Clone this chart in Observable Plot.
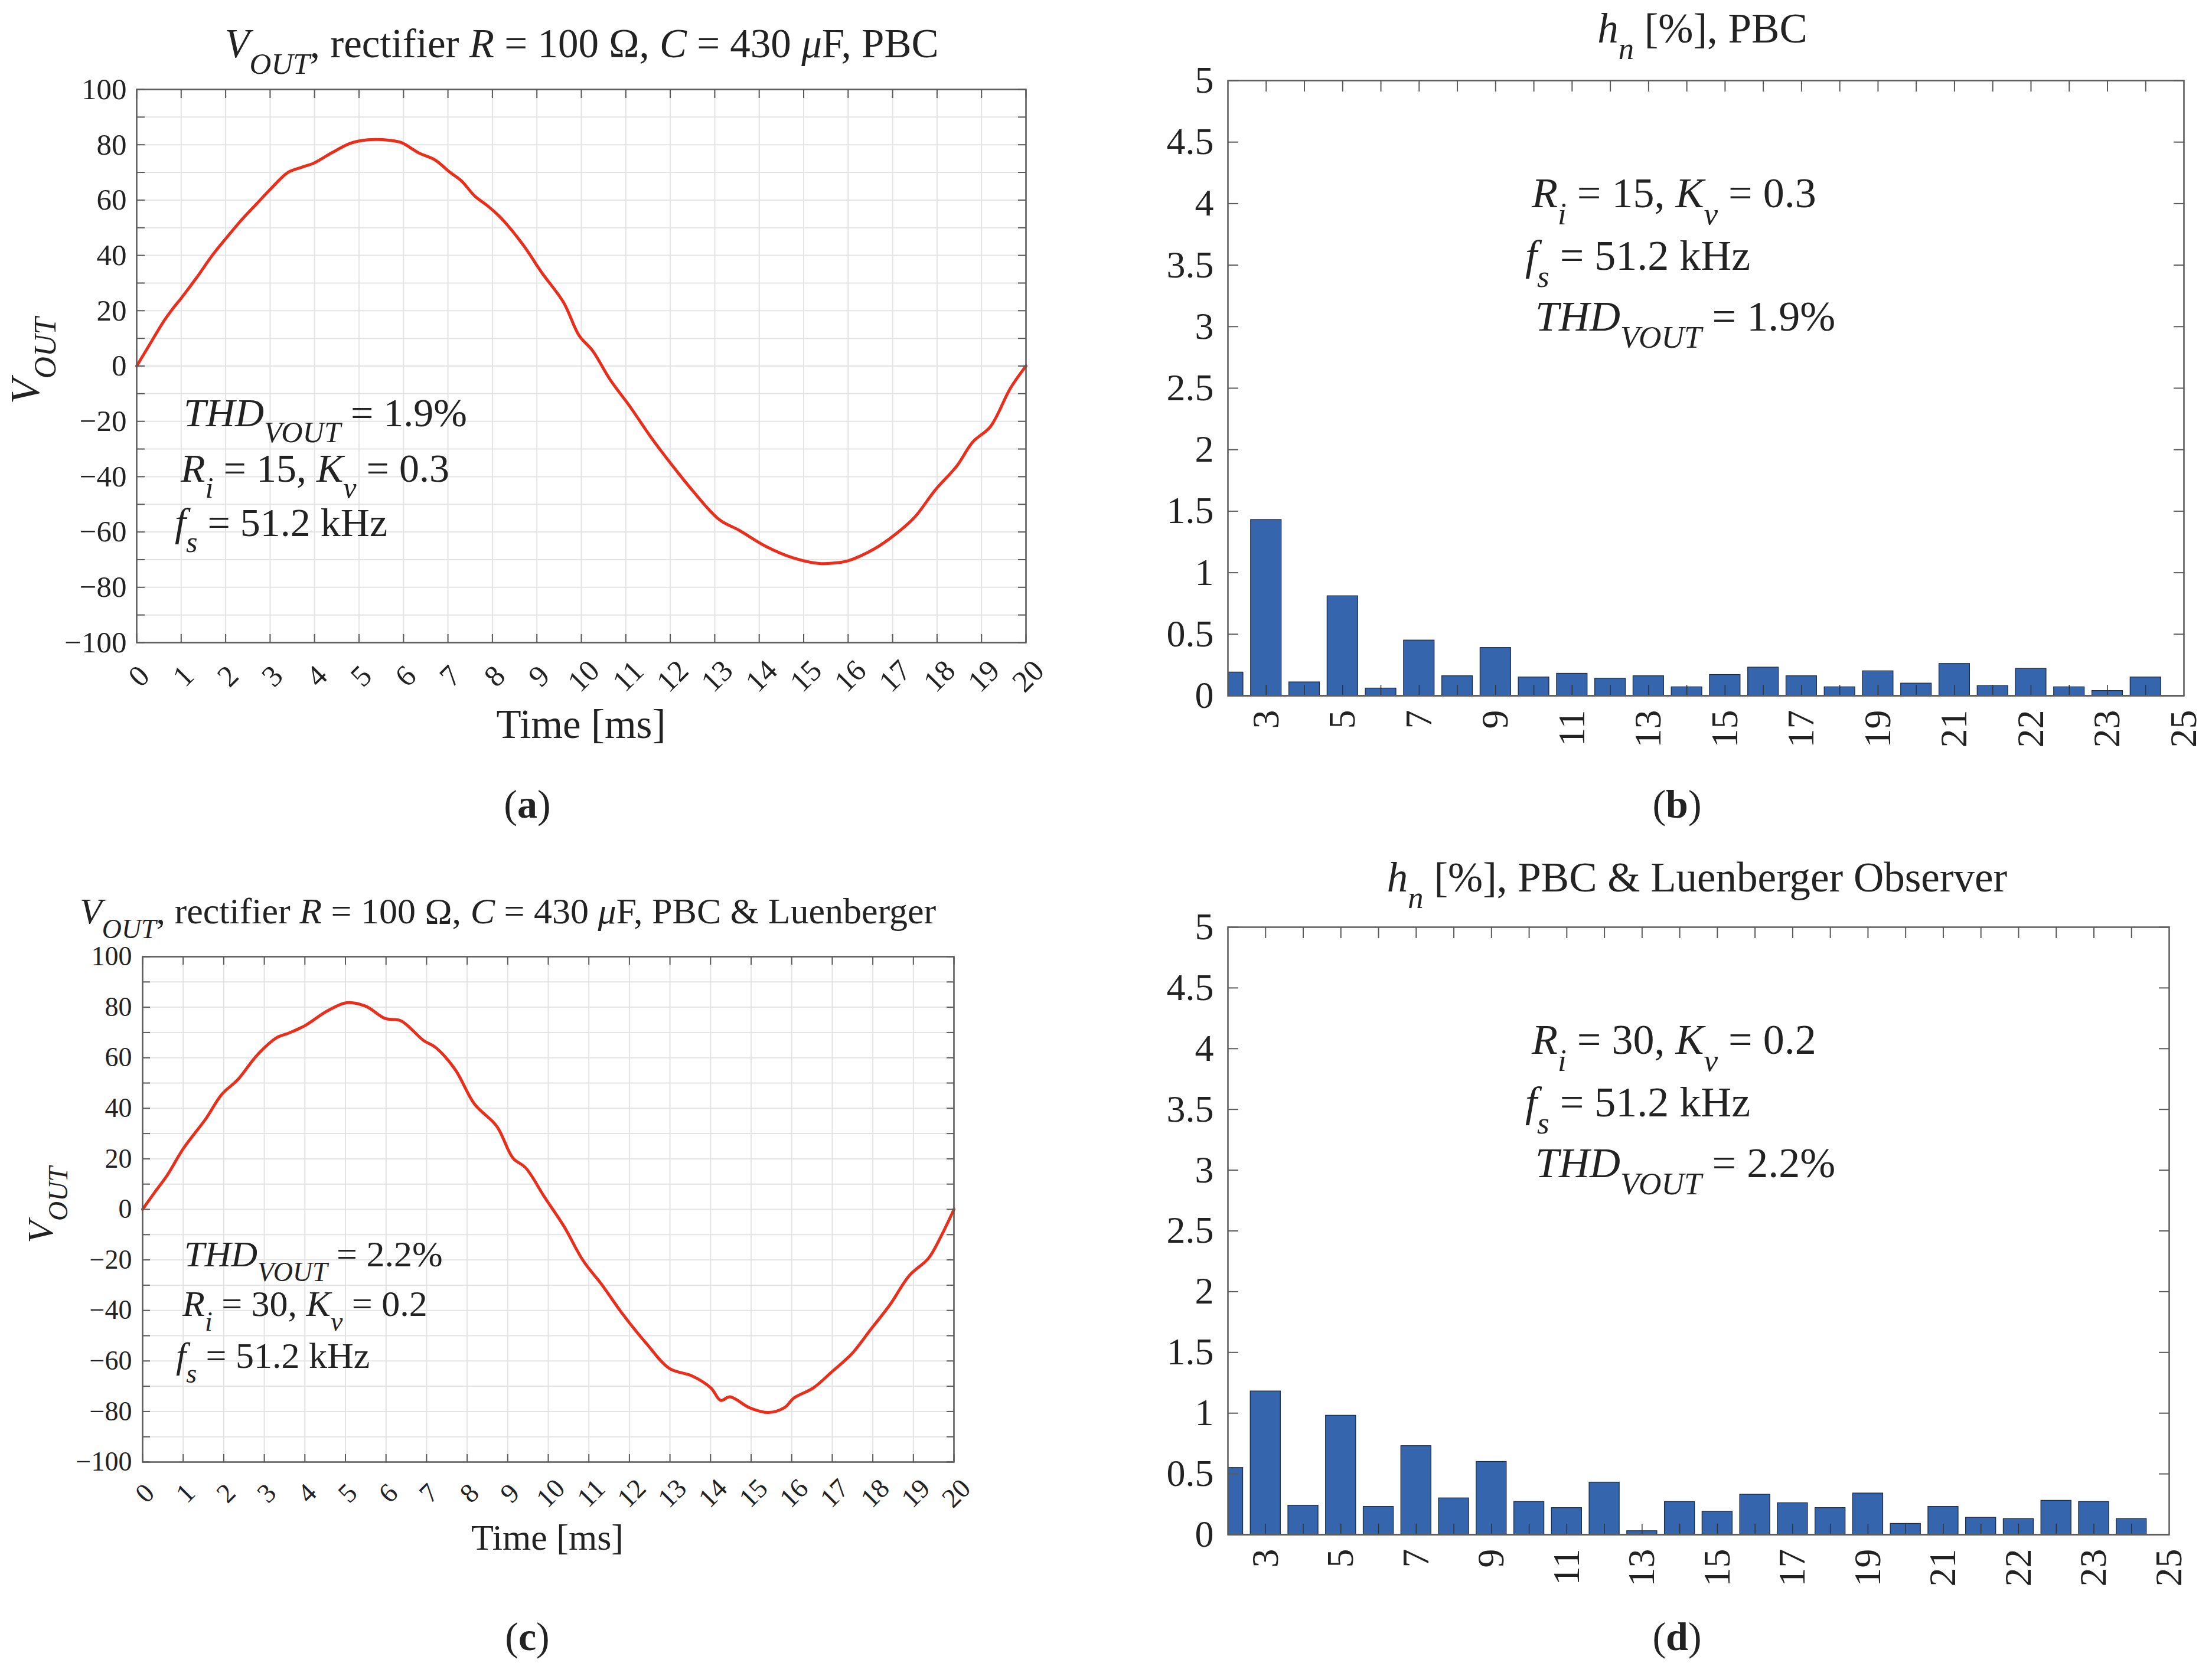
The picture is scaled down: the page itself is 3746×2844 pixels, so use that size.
<!DOCTYPE html>
<html><head><meta charset="utf-8">
<script src="https://cdn.jsdelivr.net/npm/d3@7"></script>
<script src="https://cdn.jsdelivr.net/npm/@observablehq/plot@0.6"></script>
<style>
html,body{margin:0;padding:0;background:#fff;}
#fig{position:relative;width:3746px;height:2844px;background:#fff;font-family:"Liberation Serif",serif;overflow:hidden;}
#fig svg{position:absolute;overflow:visible;font-family:"Liberation Serif",serif;}
#fig svg text{font-family:"Liberation Serif",serif;}
</style></head><body><div id="fig"></div>
<script>
// ---------- data ----------
const timeA = [0, 0.3, 0.6, 0.8, 1.0, 1.35, 1.7, 2.0, 2.35, 2.7, 3.0, 3.4, 3.7, 4.0, 4.4, 4.8, 5.2, 5.7, 5.95, 6.35, 6.7, 7.05, 7.3, 7.6, 7.9, 8.2, 8.7, 9.1, 9.6, 9.95, 10.25, 10.65, 11.1, 11.55, 12.0, 12.5, 13.1, 13.55, 14.15, 14.75, 15.35, 15.7, 16.0, 16.6, 17.05, 17.5, 17.95, 18.45, 18.8, 19.2, 19.65, 20];
const voutA = [0, 8, 16, 20.5, 24.5, 32, 40, 46, 52.7, 58.7, 63.8, 70, 71.8, 73.5, 77.2, 80.5, 81.8, 81.6, 80.8, 77, 74.6, 70, 67, 61.5, 57.8, 53.4, 43.6, 34, 23, 11, 5.6, -5, -14.8, -25.4, -35, -45, -55.5, -59.4, -65.2, -69.3, -71.4, -71.2, -70.4, -66, -61, -54.6, -45, -36, -27.5, -21.9, -8, 0];

const timeC = [0, 0.3, 0.61, 1.01, 1.56, 1.95, 2.35, 2.82, 3.29, 3.61, 4.0, 4.55, 5.03, 5.5, 5.97, 6.37, 6.92, 7.23, 7.71, 8.18, 8.73, 9.13, 9.44, 9.91, 10.39, 10.86, 11.33, 11.8, 12.43, 12.99, 13.54, 14.01, 14.25, 14.48, 14.96, 15.43, 15.82, 16.06, 16.53, 17.01, 17.48, 17.95, 18.42, 18.9, 19.37, 19.68, 20];
const voutC = [0, 6.8, 13.6, 24.2, 35.9, 45.5, 51.4, 61, 67.8, 69.8, 72.7, 78.5, 81.8, 80.4, 75.6, 74.6, 66.9, 64, 55.2, 41.7, 32.9, 20.3, 16.5, 4.8, -6.8, -20.3, -30, -40.7, -53.3, -63, -65.9, -70.7, -75.6, -74.2, -78.5, -80.4, -78.5, -74.6, -70.7, -64, -57.2, -47.5, -37.8, -26.2, -19.4, -10.7, 0];

const harmonicOrder = [2, 3, 4, 5, 6, 7, 8, 9, 10, 11, 12, 13, 14, 15, 16, 17, 18, 19, 20, 21, 22, 23, 24, 25, 26];
const hnPBC  = [0.19, 1.43, 0.11, 0.81, 0.06, 0.45, 0.16, 0.39, 0.15, 0.18, 0.14, 0.16, 0.07, 0.17, 0.23, 0.16, 0.07, 0.20, 0.10, 0.26, 0.08, 0.22, 0.07, 0.04, 0.15];
const hnLuen = [0.55, 1.18, 0.24, 0.98, 0.23, 0.73, 0.30, 0.60, 0.27, 0.22, 0.43, 0.03, 0.27, 0.19, 0.33, 0.26, 0.22, 0.34, 0.09, 0.23, 0.14, 0.13, 0.28, 0.27, 0.13];

const harmonicTickPos = [3, 5, 7, 9, 11, 13, 15, 17, 19, 21, 23, 25, 27];
const harmonicTickLabels = ["3", "5", "7", "9", "11", "13", "15", "17", "19", "21", "22", "23", "25"];
const harmonicMinor = [3, 4, 5, 6, 7, 8, 9, 10, 11, 12, 13, 14, 15, 16, 17, 18, 19, 20, 21, 22, 23, 24, 25, 26];
const hnTicks = [0, 0.5, 1, 1.5, 2, 2.5, 3, 3.5, 4, 4.5, 5];
const hnTickLabels = ["0", "0.5", "1", "1.5", "2", "2.5", "3", "3.5", "4", "4.5", "5"];

const timeTicks = [0, 1, 2, 3, 4, 5, 6, 7, 8, 9, 10, 11, 12, 13, 14, 15, 16, 17, 18, 19, 20];
const timeTickLabels = ["0", "1", "2", "3", "4", "5", "6", "7", "8", "9", "10", "11", "12", "13", "14", "15", "16", "17", "18", "19", "20"];
const voltMinor = [-100, -90, -80, -70, -60, -50, -40, -30, -20, -10, 0, 10, 20, 30, 40, 50, 60, 70, 80, 90, 100];
const voltTicks = [-100, -80, -60, -40, -20, 0, 20, 40, 60, 80, 100];
const voltTickLabels = ["\u2212100", "\u221280", "\u221260", "\u221240", "\u221220", "0", "20", "40", "60", "80", "100"];

// ---------- style ----------
const FONT = "Liberation Serif";
const TEXT = "#222222";
const AXIS = "#5a5a5a";
const GRID = "#e4e4e4";
const RED = "#ea2e1c";
const BLUE = "#3465ad";
const QW = 1873, QH = 1422;
const fig = document.getElementById("fig");

function place(svg, left, top) {
  svg.style.left = left + "px";
  svg.style.top = top + "px";
  fig.appendChild(svg);
  return svg;
}

// rich text with italic / subscript tspans; coordinates are global, converted to svg-local
function rich(svg, off, x, y, parts, o) {
  const size = o.size;
  const subSize = size * (o.subScale || 0.74);
  const shift = o.shift != null ? o.shift : size * 0.40;
  const t = d3.select(svg).append("text")
    .attr("font-family", FONT).attr("font-size", size).attr("fill", TEXT)
    .attr("text-anchor", o.anchor || "start")
    .style("white-space", "pre");
  const lx = x - off[0], ly = y - off[1];
  if (o.rotate) t.attr("transform", `translate(${lx},${ly}) rotate(${o.rotate})`);
  else t.attr("x", lx).attr("y", ly);
  let cur = 0;
  for (const [str, st] of parts) {
    const ts = t.append("tspan").text(str);
    const isSub = st.includes("s");
    const want = isSub ? shift : 0;
    if (want !== cur) { ts.attr("dy", want - cur); cur = want; }
    if (isSub) ts.attr("font-size", subSize);
    if (st.includes("i")) ts.attr("font-style", "italic");
    if (st.includes("b")) ts.attr("font-weight", "bold");
  }
}

// ---------- line panels ----------
function linePanel(t, v, m, o) {
  const data = t.map((d, i) => ({t: d, v: v[i]}));
  return Plot.plot({
    width: QW, height: QH,
    marginLeft: m[0], marginRight: m[1], marginTop: m[2], marginBottom: m[3],
    style: {fontFamily: FONT, color: TEXT, background: "transparent"},
    x: {domain: [0, 20]},
    y: {domain: [-100, 100]},
    marks: [
      Plot.ruleX(timeTicks, {x: d => d, stroke: GRID, strokeWidth: 2}),
      Plot.ruleY(voltMinor, {y: d => d, stroke: GRID, strokeWidth: 2}),
      Plot.line(data, {x: "t", y: "v", stroke: RED, strokeWidth: 5, curve: "catmull-rom"}),
      Plot.axisY({anchor: "left", ticks: voltMinor, tickSize: -o.tl, tickFormat: () => "", label: null, stroke: AXIS, strokeWidth: 2}),
      Plot.axisY({anchor: "right", ticks: voltMinor, tickSize: -o.tl, tickFormat: () => "", label: null, stroke: AXIS, strokeWidth: 2}),
      Plot.axisY({anchor: "left", ticks: voltTicks, tickSize: 0, tickPadding: o.gap, label: null,
        tickFormat: d => voltTickLabels[voltTicks.indexOf(d)], fontSize: o.fs, fill: TEXT, fontVariant: "normal", fontFamily: FONT}),
      Plot.axisX({anchor: "bottom", ticks: timeTicks, tickSize: -o.tl, tickFormat: () => "", label: null, stroke: AXIS, strokeWidth: 2}),
      Plot.axisX({anchor: "top", ticks: timeTicks, tickSize: -o.tl, tickFormat: () => "", label: null, stroke: AXIS, strokeWidth: 2}),
      Plot.text(timeTicks, {x: d => d, frameAnchor: "bottom", dy: o.ldy, dx: 4, rotate: -45,
        text: d => timeTickLabels[timeTicks.indexOf(d)], textAnchor: "middle", lineAnchor: "middle",
        fontSize: o.fs, fill: TEXT, fontFamily: FONT}),
      Plot.frame({stroke: AXIS, strokeWidth: 2.5})
    ]
  });
}

// ---------- bar panels ----------
function barPanel(h, m) {
  const data = harmonicOrder.map((n, i) => ({n, h: h[i]}));
  return Plot.plot({
    width: QW, height: QH,
    marginLeft: m[0], marginRight: m[1], marginTop: m[2], marginBottom: m[3],
    style: {fontFamily: FONT, color: TEXT, background: "transparent"},
    x: {domain: [2, 27]},
    y: {domain: [0, 5]},
    marks: [
      Plot.rectY(data, {x1: d => d.n - 0.4, x2: d => d.n + 0.4, y1: 0, y2: "h", fill: BLUE, stroke: "#1c2b44", strokeWidth: 1.3, clip: true}),
      Plot.axisY({anchor: "left", ticks: hnTicks, tickSize: -18, tickFormat: () => "", label: null, stroke: AXIS, strokeWidth: 2}),
      Plot.axisY({anchor: "right", ticks: hnTicks, tickSize: -18, tickFormat: () => "", label: null, stroke: AXIS, strokeWidth: 2}),
      Plot.axisY({anchor: "left", ticks: hnTicks, tickSize: 0, tickPadding: 24, label: null,
        tickFormat: d => hnTickLabels[hnTicks.indexOf(d)], fontSize: 64, fill: TEXT, fontVariant: "normal", fontFamily: FONT}),
      Plot.axisX({anchor: "top", ticks: harmonicMinor, tickSize: -18, tickFormat: () => "", label: null, stroke: AXIS, strokeWidth: 2}),
      Plot.axisX({anchor: "bottom", ticks: harmonicMinor, tickSize: -18, tickFormat: () => "", label: null, stroke: "#333", strokeWidth: 1.5}),
      Plot.text(harmonicTickPos, {x: d => d, frameAnchor: "bottom", dy: 24, rotate: -90,
        text: d => harmonicTickLabels[harmonicTickPos.indexOf(d)], textAnchor: "end", lineAnchor: "middle",
        fontSize: 64, fill: TEXT, fontFamily: FONT}),
      Plot.ruleY([0], {y: d => d, stroke: "#8a8a8a", strokeWidth: 3}),
      Plot.frame({stroke: AXIS, strokeWidth: 2.5})
    ]
  });
}

// ---------- build ----------
const offA = [0, 0], offB = [QW, 0], offC = [0, QH], offD = [QW, QH];

const svgA = place(linePanel(timeA, voutA, [231, 136, 151, 334], {tl: 14, gap: 17, fs: 51, ldy: 57}), 0, 0);
const svgB = place(barPanel(hnPBC, [206, 48, 136, 244]), QW, 0);
const svgC = place(linePanel(timeC, voutC, [241, 258, 198, 368], {tl: 13, gap: 18, fs: 46, ldy: 53}), 0, QH);
const svgD = place(barPanel(hnLuen, [206, 73, 148, 245]), QW, QH);

// titles
rich(svgA, offA, 985, 97, [["V", "i"], ["OUT", "is"], [", rectifier ", ""], ["R", "i"], [" = 100 \u03A9, ", ""], ["C", "i"], [" = 430 ", ""], ["\u03BC", "i"], ["F, PBC", ""]], {size: 69, anchor: "middle"});
rich(svgB, offB, 2883, 72, [["h", "i"], ["n", "is"], [" [%], PBC", ""]], {size: 71, anchor: "middle"});
rich(svgC, offC, 860, 1564, [["V", "i"], ["OUT", "is"], [", rectifier ", ""], ["R", "i"], [" = 100 \u03A9, ", ""], ["C", "i"], [" = 430 ", ""], ["\u03BC", "i"], ["F, PBC & Luenberger", ""]], {size: 62, anchor: "middle"});
rich(svgD, offD, 2874, 1510, [["h", "i"], ["n", "is"], [" [%], PBC & Luenberger Observer", ""]], {size: 71, anchor: "middle"});

// axis labels
rich(svgA, offA, 66, 611, [["V", "i"], ["OUT", "is"]], {size: 70, anchor: "middle", rotate: -90});
rich(svgC, offC, 89, 2041, [["V", "i"], ["OUT", "is"]], {size: 62, anchor: "middle", rotate: -90});
rich(svgA, offA, 984, 1250, [["Time [ms]", ""]], {size: 69, anchor: "middle"});
rich(svgC, offC, 927, 2625, [["Time [ms]", ""]], {size: 62, anchor: "middle"});

// annotations
rich(svgA, offA, 311, 722, [["THD", "i"], ["VOUT", "is"], [" = 1.9%", ""]], {size: 68});
rich(svgA, offA, 306, 816, [["R", "i"], ["i", "is"], [" = 15, ", ""], ["K", "i"], ["v", "is"], [" = 0.3", ""]], {size: 68});
rich(svgA, offA, 296, 908, [["f", "i"], ["s", "is"], [" = 51.2 kHz", ""]], {size: 68});

rich(svgC, offC, 312, 2145, [["THD", "i"], ["VOUT", "is"], [" = 2.2%", ""]], {size: 62});
rich(svgC, offC, 309, 2229, [["R", "i"], ["i", "is"], [" = 30, ", ""], ["K", "i"], ["v", "is"], [" = 0.2", ""]], {size: 62});
rich(svgC, offC, 298, 2317, [["f", "i"], ["s", "is"], [" = 51.2 kHz", ""]], {size: 62});

rich(svgB, offB, 2594, 351, [["R", "i"], ["i", "is"], [" = 15, ", ""], ["K", "i"], ["v", "is"], [" = 0.3", ""]], {size: 72});
rich(svgB, offB, 2583, 457, [["f", "i"], ["s", "is"], [" = 51.2 kHz", ""]], {size: 72});
rich(svgB, offB, 2600, 560, [["THD", "i"], ["VOUT", "is"], [" = 1.9%", ""]], {size: 72});

rich(svgD, offD, 2594, 1785, [["R", "i"], ["i", "is"], [" = 30, ", ""], ["K", "i"], ["v", "is"], [" = 0.2", ""]], {size: 72});
rich(svgD, offD, 2583, 1891, [["f", "i"], ["s", "is"], [" = 51.2 kHz", ""]], {size: 72});
rich(svgD, offD, 2600, 1994, [["THD", "i"], ["VOUT", "is"], [" = 2.2%", ""]], {size: 72});

// panel letters
rich(svgA, offA, 893, 1385, [["(", ""], ["a", "b"], [")", ""]], {size: 68, anchor: "middle"});
rich(svgB, offB, 2840, 1385, [["(", ""], ["b", "b"], [")", ""]], {size: 68, anchor: "middle"});
rich(svgC, offC, 893, 2795, [["(", ""], ["c", "b"], [")", ""]], {size: 68, anchor: "middle"});
rich(svgD, offD, 2840, 2795, [["(", ""], ["d", "b"], [")", ""]], {size: 68, anchor: "middle"});
</script>
</body></html>
